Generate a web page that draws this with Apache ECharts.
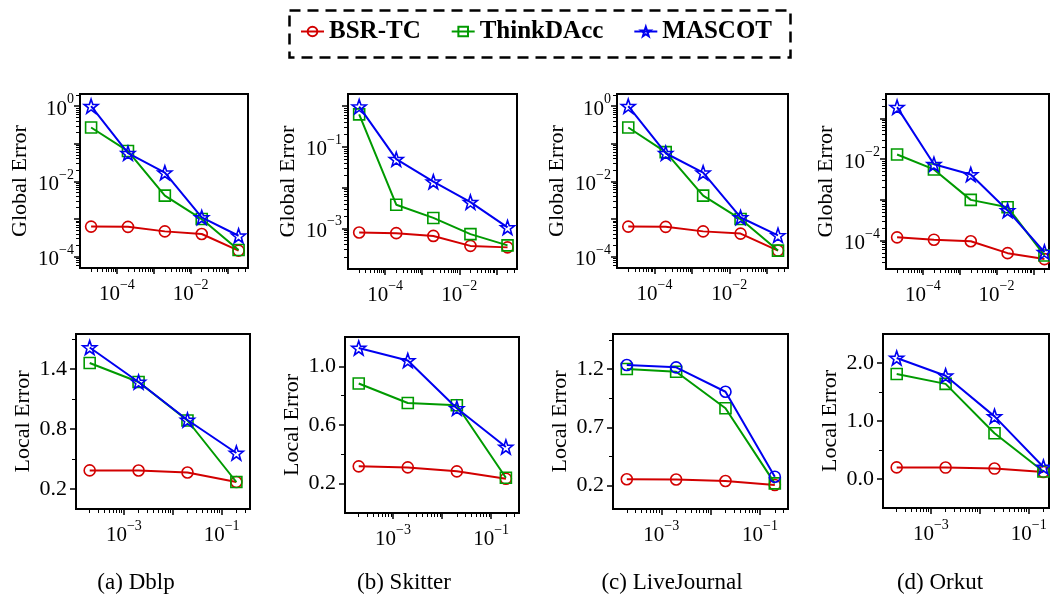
<!DOCTYPE html>
<html><head><meta charset="utf-8">
<script src="https://cdn.jsdelivr.net/npm/echarts@6/dist/echarts.min.js"></script>
<style>html,body{margin:0;padding:0;background:#fff}#c{width:1050px;height:597px}</style>
</head><body><div id="c"></div>
<script>
// ---------------- DATA ----------------
const seriesNames = ['BSR-TC', 'ThinkDAcc', 'MASCOT'];
const captions = ['(a) Dblp', '(b) Skitter', '(c) LiveJournal', '(d) Orkut'];

const globalX = [2e-5, 2e-4, 2e-3, 2e-2, 2e-1];
const localX = [2e-4, 2e-3, 2e-2, 2e-1];

// Global Error (top row), per dataset
const globalBSRTC = [
  [6.3e-4, 6.2e-4, 4.7e-4, 4.0e-4, 1.45e-4],
  [7.9e-4, 7.6e-4, 6.5e-4, 3.7e-4, 3.4e-4],
  [6.3e-4, 6.2e-4, 4.7e-4, 4.1e-4, 1.45e-4],
  [1.2e-4, 1.05e-4, 9.6e-5, 4.9e-5, 3.5e-5]
];
const globalThinkDAcc = [
  [0.27, 0.064, 4.2e-3, 1.0e-3, 1.5e-4],
  [0.63, 3.8e-3, 1.8e-3, 7.2e-4, 3.8e-4],
  [0.27, 0.06, 4.2e-3, 1.0e-3, 1.45e-4],
  [0.013, 5.6e-3, 1.0e-3, 6.6e-4, 4.3e-5]
];
const globalMASCOT = [
  [1.0, 0.056, 0.017, 1.1e-3, 3.6e-4],
  [0.98, 0.05, 0.014, 4.4e-3, 1.05e-3],
  [1.0, 0.056, 0.017, 1.1e-3, 3.7e-4],
  [0.19, 7.5e-3, 4.2e-3, 5.5e-4, 5.2e-5]
];

// Local Error (bottom row), per dataset
const localBSRTC = [
  [0.386, 0.385, 0.365, 0.27],
  [0.318, 0.311, 0.284, 0.234],
  [0.255, 0.253, 0.24, 0.206],
  [0.2, 0.197, 0.18, 0.12]
];
const localThinkDAcc = [
  [1.46, 1.27, 0.885, 0.27],
  [0.883, 0.75, 0.735, 0.24],
  [1.2, 1.177, 0.863, 0.22],
  [1.81, 1.64, 0.79, 0.13]
];
const localMASCOT = [
  [1.615, 1.27, 0.89, 0.56],
  [1.125, 1.04, 0.714, 0.45],
  [1.234, 1.214, 1.005, 0.277],
  [2.086, 1.78, 1.08, 0.207]
];

// axis ranges & tick labels
const globalXRange = [[1e-5, 0.36], [1e-5, 0.36], [1e-5, 0.37], [1e-5, 0.266]];
const globalXLabels = [1e-4, 1e-2];
const globalXMajor = [1e-4, 1e-3, 1e-2, 1e-1];
const localXRange = [[1.05e-4, 0.38], [1.05e-4, 0.37], [1.05e-4, 0.37], [1.05e-4, 0.26]];
const localXLabels = [1e-3, 1e-1];
const localXMajor = [1e-3, 1e-2, 1e-1];

const globalYRange = [[5e-5, 2.1], [1e-4, 2.0], [5e-5, 2.1], [2e-5, 0.4]];
const globalYLabels = [[1, 1e-2, 1e-4], [1e-1, 1e-3], [1, 1e-2, 1e-4], [1e-2, 1e-4]];

const localYRange = [[0, 1.75], [0, 1.2], [0, 1.5], [-0.5, 2.5]];
const localYLabels = [[0.2, 0.8, 1.4], [0.2, 0.6, 1.0], [0.2, 0.7, 1.2], [0.0, 1.0, 2.0]];
const localYMinor = [[0.5, 1.1, 1.7], [0.4, 0.8], [0.45, 0.95, 1.45], [0.5, 1.5]];

// ---------------- LAYOUT / STYLE ----------------
const topGrids = [[80, 94, 168, 174], [348, 94, 169, 175], [617, 94, 171, 174], [886, 94, 163, 175]];
const botGrids = [[76, 334, 174, 175], [345, 337, 174, 176], [613, 334, 175, 175], [883, 334, 166, 174]];
const captionX = [136, 404, 672, 940];
const COLORS = ['#d20000', '#009a00', '#0000f0'];
const SERIF = '"Liberation Serif", "DejaVu Serif", "Times New Roman", serif';
const STAR = 'path://M0,-1L0.235,-0.324L0.951,-0.309L0.38,0.124L0.588,0.809L0,0.4L-0.588,0.809L-0.38,0.124L-0.951,-0.309L-0.235,-0.324Z';

function decades(lo, hi) {
  const out = [];
  for (let e = Math.floor(Math.log10(lo)); e <= Math.ceil(Math.log10(hi)); e++) {
    const v = Math.pow(10, e);
    if (v > lo && v < hi) out.push(v);
  }
  return out;
}
function logMinor(lo, hi) {
  const out = [];
  for (let e = Math.floor(Math.log10(lo)) - 1; e <= Math.ceil(Math.log10(hi)); e++) {
    for (let m = 2; m <= 9; m++) {
      const v = m * Math.pow(10, e);
      if (v > lo && v < hi) out.push(v);
    }
  }
  return out;
}
const powRich = {
  b: { fontFamily: SERIF, fontSize: 21, color: '#000', verticalAlign: 'bottom', padding: [6, 0, 0, 0] },
  s: { fontFamily: SERIF, fontSize: 14, color: '#000', verticalAlign: 'top' }
};
function powFmt(v) {
  const e = Math.round(Math.log10(v));
  return '{b|10}{s|' + (e < 0 ? '\u2212' + (-e) : String(e)) + '}';
}

const grids = [], xAxes = [], yAxes = [], series = [];

function addPanel(g, rect, xRange, xMajor, xLabels, yType, yRange, yMajor, yLabels, yMinor, yFmt, yName, yLabelMargin, yNameGap, xs, dataSets, symbols) {
  grids.push({ left: rect[0], top: rect[1], width: rect[2], height: rect[3], show: true, borderColor: '#000', borderWidth: 2, containLabel: false });
  // main x
  xAxes.push({
    type: 'log', logBase: 10, gridIndex: g, min: xRange[0], max: xRange[1], position: 'bottom',
    axisLine: { show: true, onZero: false, lineStyle: { color: '#000', width: 2 } },
    axisTick: { show: true, inside: false, length: 6, lineStyle: { color: '#000', width: 1.5 }, customValues: xMajor },
    axisLabel: { show: true, margin: 10, customValues: xLabels, formatter: powFmt, rich: powRich },
    splitLine: { show: false }, minorTick: { show: false }, minorSplitLine: { show: false }
  });
  // minor x
  xAxes.push({
    type: 'log', logBase: 10, gridIndex: g, min: xRange[0], max: xRange[1], position: 'bottom', offset: 0,
    axisLine: { show: false, onZero: false },
    axisTick: { show: true, inside: false, length: 4, lineStyle: { color: '#000', width: 1 }, customValues: logMinor(xRange[0], xRange[1]) },
    axisLabel: { show: false }, splitLine: { show: false }
  });
  // main y
  yAxes.push({
    type: yType, logBase: 10, gridIndex: g, min: yRange[0], max: yRange[1], position: 'left',
    name: yName, nameLocation: 'middle', nameGap: yNameGap,
    nameTextStyle: { fontFamily: SERIF, fontSize: 22, color: '#000' },
    axisLine: { show: true, onZero: false, lineStyle: { color: '#000', width: 2 } },
    axisTick: { show: true, inside: false, length: 6, lineStyle: { color: '#000', width: 1.5 }, customValues: yMajor },
    axisLabel: yType === 'log'
      ? { show: true, margin: yLabelMargin, customValues: yLabels, formatter: powFmt, rich: powRich }
      : { show: true, margin: yLabelMargin, customValues: yLabels, formatter: yFmt, fontFamily: SERIF, fontSize: 22, color: '#000' },
    splitLine: { show: false }, minorTick: { show: false }, minorSplitLine: { show: false }
  });
  // minor y
  yAxes.push({
    type: yType, logBase: 10, gridIndex: g, min: yRange[0], max: yRange[1], position: 'left', offset: 0,
    axisLine: { show: false, onZero: false },
    axisTick: { show: true, inside: false, length: 4, lineStyle: { color: '#000', width: 1 }, customValues: yMinor },
    axisLabel: { show: false }, splitLine: { show: false }
  });
  dataSets.forEach((vals, k) => {
    series.push({
      type: 'line', name: seriesNames[k], xAxisIndex: 2 * g, yAxisIndex: 2 * g,
      data: xs.map((xv, j) => [xv, vals[j]]),
      symbol: symbols[k], symbolSize: symbols[k] === STAR ? 14 : 11, showSymbol: true,
      color: COLORS[k],
      lineStyle: { color: COLORS[k], width: 2 },
      itemStyle: { color: 'rgba(255,255,255,0)', borderColor: COLORS[k], borderWidth: 1.6 },
      emphasis: { disabled: true }, animation: false, clip: true, z: 2 + k
    });
  });
}

for (let i = 0; i < 4; i++) {
  const yr = globalYRange[i];
  addPanel(i, topGrids[i], globalXRange[i], globalXMajor, globalXLabels,
    'log', yr, decades(yr[0], yr[1]), globalYLabels[i], logMinor(yr[0], yr[1]), null,
    'Global Error', 6, 49, globalX,
    [globalBSRTC[i], globalThinkDAcc[i], globalMASCOT[i]],
    ['circle', 'rect', STAR]);
}
for (let i = 0; i < 4; i++) {
  const yr = localYRange[i];
  addPanel(4 + i, botGrids[i], localXRange[i], localXMajor, localXLabels,
    'value', yr, localYLabels[i], localYLabels[i], localYMinor[i], v => Number(v).toFixed(1),
    'Local Error', 9, 42, localX,
    [localBSRTC[i], localThinkDAcc[i], localMASCOT[i]],
    ['circle', 'rect', i === 2 ? 'circle' : STAR]);
}

const option = {
  backgroundColor: '#fff',
  animation: false,
  title: captions.map((t, i) => ({
    text: t, left: captionX[i], top: 571, textAlign: 'center', padding: 0,
    textStyle: { fontFamily: SERIF, fontSize: 23, fontWeight: 'normal', color: '#000' }
  })),
  legend: {
    data: seriesNames, left: 300, top: 19, padding: 0, itemGap: 30, itemWidth: 23, itemHeight: 12,
    textStyle: { fontFamily: SERIF, fontSize: 25, fontWeight: 'bold', color: '#000' },
    selectedMode: false
  },
  graphic: [{
    type: 'rect', left: 287, top: 8, silent: true,
    shape: { x: 0, y: 0, width: 501, height: 47 },
    style: { fill: 'none', stroke: '#000', lineWidth: 2.5, lineDash: [11, 7] }
  }],
  grid: grids, xAxis: xAxes, yAxis: yAxes, series: series
};
const chart = echarts.init(document.getElementById('c'), null, { renderer: 'canvas' });
chart.setOption(option);
</script></body></html>
